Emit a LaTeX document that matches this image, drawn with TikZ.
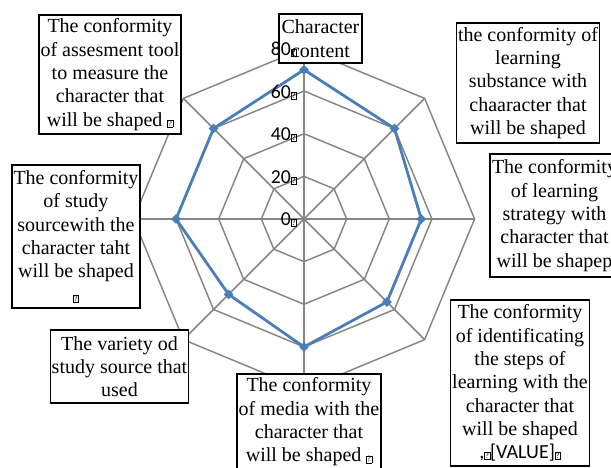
\documentclass[tikz,border=0pt]{standalone}
\usepackage{fontspec}
\setmainfont{Liberation Serif}
\newfontfamily\timesfont{Liberation Serif}
\newfontfamily\calibri{Carlito}
\usetikzlibrary{shapes.geometric}

\definecolor{gridgray}{RGB}{134,134,134}
\definecolor{serieblue}{RGB}{74,126,187}

% missing-glyph box as it shows in the chart
\newcommand{\tofu}{{\fboxsep=0.4pt\fboxrule=0.4pt\fbox{\fontsize{6}{6}\selectfont ?}}}

\begin{document}
\begin{tikzpicture}[x=0.75pt, y=0.75pt,
    every node/.style={font=\timesfont\fontsize{15}{17.5}\selectfont},
    gridline/.style={draw=gridgray, line width=1.1pt},
    dataline/.style={draw=serieblue, line width=2.1pt, line join=round},
    datamark/.style={diamond, fill=serieblue, inner sep=0pt, minimum size=7.5pt},
    ticklabel/.style={anchor=east, inner sep=0pt, font=\calibri\fontsize{14.8}{16}\selectfont},
    catbox/.style={draw=black, fill=white, line width=0.8pt, align=center, inner sep=1pt}]

\useasboundingbox (0,0) rectangle (611,468);
\clip (0,0) rectangle (611,468);

% --- RADAR GRID (centre of the chart) ---
\begin{scope}[shift={(304,249)}]
    \coordinate (O) at (0,0);

    % Rings 20, 40, 60, 80
    \foreach \k [evaluate=\k as \r using 42.65*\k] in {1,...,4}
        \draw[gridline] (90:\r) -- (45:\r) -- (0:\r) -- (-45:\r) -- (-90:\r)
            -- (-135:\r) -- (180:\r) -- (135:\r) -- cycle;

    % Spokes
    \foreach \a in {90,45,...,-225}
        \draw[gridline] (O) -- (\a:170.6);

    % Series
    \foreach \v [count=\i] in {70,60,55,55,60,50,60,60}
        \coordinate (p\i) at ({135-45*\i}:{2.1325*\v});
    \draw[dataline] (p1) -- (p2) -- (p3) -- (p4) -- (p5) -- (p6) -- (p7) -- (p8) -- cycle;
    \foreach \i in {1,...,8}
        \node[datamark] (m\i) at (p\i) {};
\end{scope}

% --- CATEGORY LABELS ---
\node[catbox, minimum width=62.25pt, minimum height=36.75pt] (charC) at (320.5,429.5)
    {Character\\content};
\node[catbox, minimum width=106.5pt, minimum height=89.25pt] (assess) at (110,393.5)
    {The conformity\\of assesment tool\\to measure the\\character that\\will be shaped \tofu};
\node[catbox, minimum width=106.5pt, minimum height=90pt] (subst) at (528,385)
    {the conformity of\\learning\\substance with\\chaaracter that\\will be shaped};
\node[catbox, minimum width=96pt, minimum height=107.25pt] (source) at (76,231.5)
    {The conformity\\of study\\sourcewith the\\character taht\\will be shaped\\\tofu};
\node[catbox, minimum width=96.75pt, minimum height=92.25pt] (strat) at (554.5,252.5)
    {The conformity\\of learning\\strategy with\\character that\\will be shapep};
\node[catbox, minimum width=103.5pt, minimum height=124.5pt] (steps) at (520,85)
    {The conformity\\of identificating\\the steps of\\learning with the\\character that\\will be shaped\\{\calibri ,\tofu[VALUE]\tofu}};
\node[catbox, minimum width=108pt, minimum height=72pt] (media) at (309,46)
    {The conformity\\of media with the\\character that\\will be shaped \tofu};
\node[catbox, minimum width=102.75pt, minimum height=54.75pt] (variety) at (119.5,101.5)
    {The variety od\\study source that\\used};

% --- SCALE LABELS (on top, as in the chart) ---
\foreach \v [count=\k from 0] in {0,20,...,80}
    \node[ticklabel] (t\v) at (297, {249+42.65*\k-1}) {\v\tofu};

\end{tikzpicture}
\end{document}
